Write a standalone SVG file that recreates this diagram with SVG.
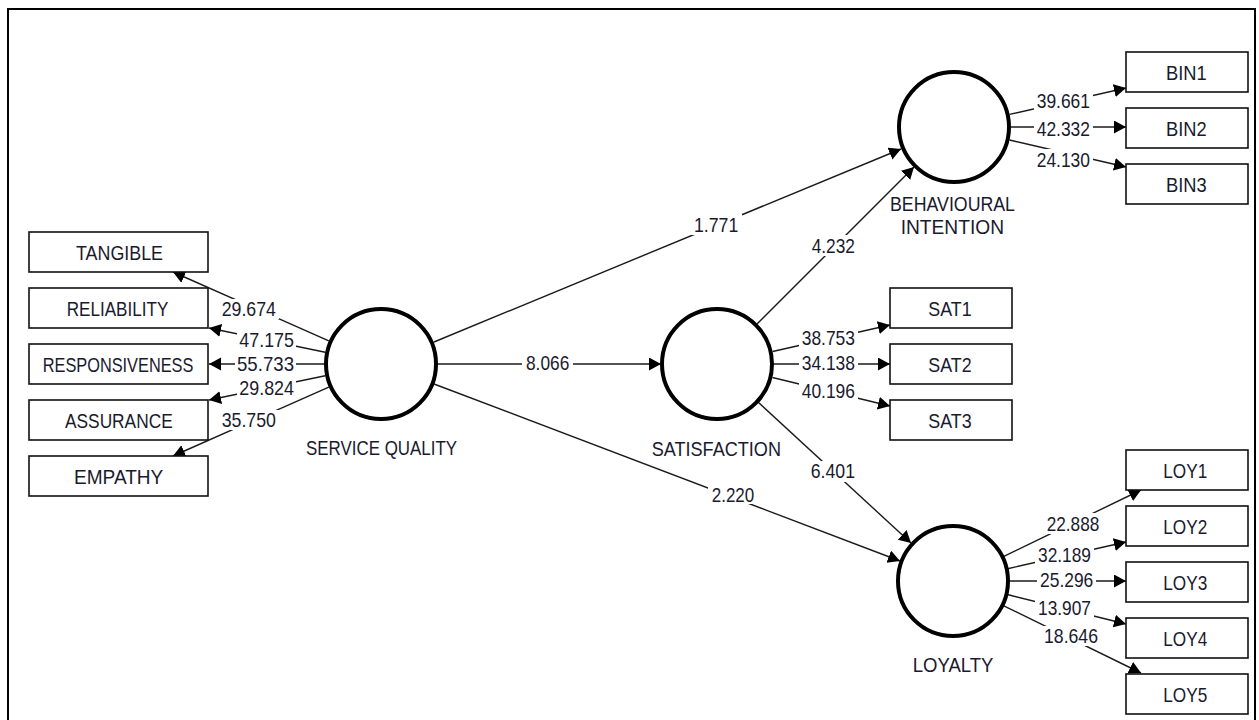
<svg xmlns="http://www.w3.org/2000/svg" width="1259" height="720" viewBox="0 0 1259 720">
<style>
.t{font-family:"Liberation Sans",Arial,sans-serif;font-size:21px;fill:#1a1a2e}
.box{fill:#fff;stroke:#111;stroke-width:1.6}
.lv{fill:#fff;stroke:#000;stroke-width:4}
.ln{stroke:#1a1a1a;stroke-width:1.4;fill:none;marker-end:url(#ah)}
.bg{fill:#fff}
</style>
<defs>
<marker id="ah" markerUnits="userSpaceOnUse" markerWidth="14" markerHeight="14" refX="12" refY="6.5" orient="auto">
<path d="M0,0 L12,6.5 L0,13 z" fill="#000"/>
</marker>
</defs>
<rect x="8" y="9" width="1247" height="730" fill="#fff" stroke="#000" stroke-width="2"/>

<g id="connectors">
<line class="ln" x1="328.8" y1="340.9" x2="173" y2="272"/>
<line class="ln" x1="325.2" y1="352.3" x2="209" y2="328"/>
<line class="ln" x1="324" y1="364" x2="209" y2="364"/>
<line class="ln" x1="325.2" y1="375.7" x2="209" y2="400"/>
<line class="ln" x1="328.8" y1="387.1" x2="173" y2="456"/>
<line class="ln" x1="1009.6" y1="114.4" x2="1126" y2="88"/>
<line class="ln" x1="1011" y1="127" x2="1126" y2="127"/>
<line class="ln" x1="1009.5" y1="140" x2="1126" y2="167"/>
<line class="ln" x1="772.6" y1="351.5" x2="890" y2="325"/>
<line class="ln" x1="773" y1="364" x2="890" y2="364"/>
<line class="ln" x1="772.4" y1="377.5" x2="890" y2="406"/>
<line class="ln" x1="1003.4" y1="556.6" x2="1141" y2="490"/>
<line class="ln" x1="1007.6" y1="568.7" x2="1126" y2="542"/>
<line class="ln" x1="1009" y1="581" x2="1126" y2="581"/>
<line class="ln" x1="1007.3" y1="594.5" x2="1126" y2="624"/>
<line class="ln" x1="1003.3" y1="605.6" x2="1141" y2="673"/>
<line class="ln" x1="434" y1="342" x2="901" y2="149"/>
<line class="ln" x1="437" y1="364" x2="661" y2="364"/>
<line class="ln" x1="434" y1="384" x2="900" y2="561"/>
<line class="ln" x1="757" y1="324" x2="914" y2="167"/>
<line class="ln" x1="758" y1="402" x2="911" y2="543"/>

<rect class="bg" x="219" y="299" width="60" height="20"/><text class="t" x="221.7" y="316" textLength="54.3" lengthAdjust="spacingAndGlyphs">29.674</text>
<rect class="bg" x="237" y="331" width="59" height="19"/><text class="t" x="239.3" y="347" textLength="54.7" lengthAdjust="spacingAndGlyphs">47.175</text>
<rect class="bg" x="235" y="355" width="61" height="18"/><text class="t" x="237" y="370.5" textLength="57" lengthAdjust="spacingAndGlyphs">55.733</text>
<rect class="bg" x="237" y="379" width="59" height="18"/><text class="t" x="239.3" y="394.5" textLength="54.7" lengthAdjust="spacingAndGlyphs">29.824</text>
<rect class="bg" x="219" y="410" width="60" height="20"/><text class="t" x="221.7" y="427" textLength="54.3" lengthAdjust="spacingAndGlyphs">35.750</text>

<rect class="bg" x="1034" y="91" width="59" height="20"/><text class="t" x="1036.7" y="108" textLength="53.3" lengthAdjust="spacingAndGlyphs">39.661</text>
<rect class="bg" x="1034" y="120" width="59" height="19"/><text class="t" x="1036.7" y="136" textLength="53.3" lengthAdjust="spacingAndGlyphs">42.332</text>
<rect class="bg" x="1034" y="149" width="59" height="20"/><text class="t" x="1036.7" y="166.5" textLength="53.3" lengthAdjust="spacingAndGlyphs">24.130</text>

<rect class="bg" x="799" y="328" width="59" height="20"/><text class="t" x="801.7" y="345" textLength="53.3" lengthAdjust="spacingAndGlyphs">38.753</text>
<rect class="bg" x="799" y="354" width="59" height="19"/><text class="t" x="801.7" y="370" textLength="53.3" lengthAdjust="spacingAndGlyphs">34.138</text>
<rect class="bg" x="799" y="381" width="59" height="20"/><text class="t" x="801.7" y="397.5" textLength="53.3" lengthAdjust="spacingAndGlyphs">40.196</text>

<rect class="bg" x="522" y="352" width="51" height="21"/><text class="t" x="526" y="370" textLength="43.3" lengthAdjust="spacingAndGlyphs">8.066</text>
<rect class="bg" x="690" y="214" width="52" height="21"/><text class="t" x="694" y="232.3" textLength="44.3" lengthAdjust="spacingAndGlyphs">1.771</text>
<rect class="bg" x="808" y="235" width="51" height="21"/><text class="t" x="811.7" y="253.3" textLength="43.3" lengthAdjust="spacingAndGlyphs">4.232</text>
<rect class="bg" x="708" y="483" width="50" height="21"/><text class="t" x="711.7" y="501.7" textLength="42.6" lengthAdjust="spacingAndGlyphs">2.220</text>
<rect class="bg" x="807" y="461" width="52" height="21"/><text class="t" x="810.7" y="478.3" textLength="44.3" lengthAdjust="spacingAndGlyphs">6.401</text>

<rect class="bg" x="1043" y="513" width="60" height="21"/><text class="t" x="1046.7" y="530.7" textLength="52.6" lengthAdjust="spacingAndGlyphs">22.888</text>
<rect class="bg" x="1035" y="545" width="59" height="19"/><text class="t" x="1038" y="561.7" textLength="53" lengthAdjust="spacingAndGlyphs">32.189</text>
<rect class="bg" x="1037" y="571" width="59" height="18"/><text class="t" x="1040" y="586.7" textLength="53.3" lengthAdjust="spacingAndGlyphs">25.296</text>
<rect class="bg" x="1035" y="598" width="59" height="20"/><text class="t" x="1038" y="615" textLength="53" lengthAdjust="spacingAndGlyphs">13.907</text>
<rect class="bg" x="1041" y="626" width="60" height="20"/><text class="t" x="1044" y="643.3" textLength="54" lengthAdjust="spacingAndGlyphs">18.646</text>
</g>

<g id="sq"><circle class="lv" cx="381" cy="364" r="55"/><text class="t" x="306" y="455" textLength="151" lengthAdjust="spacingAndGlyphs">SERVICE QUALITY</text></g>
<g id="sat"><circle class="lv" cx="717" cy="364" r="55"/><text class="t" x="651.7" y="456" textLength="129.3" lengthAdjust="spacingAndGlyphs">SATISFACTION</text></g>
<g id="bi"><circle class="lv" cx="954" cy="127" r="55"/><text class="t" x="890" y="211" textLength="125" lengthAdjust="spacingAndGlyphs">BEHAVIOURAL</text><text class="t" x="900.7" y="234" textLength="103.3" lengthAdjust="spacingAndGlyphs">INTENTION</text></g>
<g id="loy"><circle class="lv" cx="953" cy="581" r="55"/><text class="t" x="912.7" y="672.3" textLength="80.7" lengthAdjust="spacingAndGlyphs">LOYALTY</text></g>

<g id="tangible"><rect class="box" x="29" y="232" width="179" height="40"/><text class="t" x="76" y="260" textLength="87" lengthAdjust="spacingAndGlyphs">TANGIBLE</text></g>
<g id="reliability"><rect class="box" x="29" y="288" width="179" height="40"/><text class="t" x="66.7" y="316" textLength="101.6" lengthAdjust="spacingAndGlyphs">RELIABILITY</text></g>
<g id="responsiveness"><rect class="box" x="29" y="344" width="179" height="40"/><text class="t" x="42.7" y="372" textLength="150.7" lengthAdjust="spacingAndGlyphs">RESPONSIVENESS</text></g>
<g id="assurance"><rect class="box" x="29" y="400" width="179" height="40"/><text class="t" x="65" y="428" textLength="107.7" lengthAdjust="spacingAndGlyphs">ASSURANCE</text></g>
<g id="empathy"><rect class="box" x="29" y="456" width="179" height="40"/><text class="t" x="74" y="484" textLength="89.3" lengthAdjust="spacingAndGlyphs">EMPATHY</text></g>

<g id="bin1"><rect class="box" x="1126" y="52" width="122" height="40"/><text class="t" x="1166" y="80" textLength="40.7" lengthAdjust="spacingAndGlyphs">BIN1</text></g>
<g id="bin2"><rect class="box" x="1126" y="108" width="122" height="40"/><text class="t" x="1166" y="136" textLength="40.7" lengthAdjust="spacingAndGlyphs">BIN2</text></g>
<g id="bin3"><rect class="box" x="1126" y="164" width="122" height="40"/><text class="t" x="1166" y="192" textLength="40.7" lengthAdjust="spacingAndGlyphs">BIN3</text></g>

<g id="sat1"><rect class="box" x="890" y="288" width="122" height="40"/><text class="t" x="928.3" y="316" textLength="43.3" lengthAdjust="spacingAndGlyphs">SAT1</text></g>
<g id="sat2"><rect class="box" x="890" y="344" width="122" height="40"/><text class="t" x="928.3" y="372" textLength="43.3" lengthAdjust="spacingAndGlyphs">SAT2</text></g>
<g id="sat3"><rect class="box" x="890" y="400" width="122" height="40"/><text class="t" x="928.3" y="428" textLength="43.3" lengthAdjust="spacingAndGlyphs">SAT3</text></g>

<g id="loy1"><rect class="box" x="1126" y="450" width="122" height="40"/><text class="t" x="1163.3" y="478" textLength="44" lengthAdjust="spacingAndGlyphs">LOY1</text></g>
<g id="loy2"><rect class="box" x="1126" y="506" width="122" height="40"/><text class="t" x="1163.3" y="534" textLength="44" lengthAdjust="spacingAndGlyphs">LOY2</text></g>
<g id="loy3"><rect class="box" x="1126" y="562" width="122" height="40"/><text class="t" x="1163.3" y="590" textLength="44" lengthAdjust="spacingAndGlyphs">LOY3</text></g>
<g id="loy4"><rect class="box" x="1126" y="618" width="122" height="40"/><text class="t" x="1163.3" y="646" textLength="44" lengthAdjust="spacingAndGlyphs">LOY4</text></g>
<g id="loy5"><rect class="box" x="1126" y="674" width="122" height="40"/><text class="t" x="1163.3" y="702" textLength="44" lengthAdjust="spacingAndGlyphs">LOY5</text></g>
</svg>
